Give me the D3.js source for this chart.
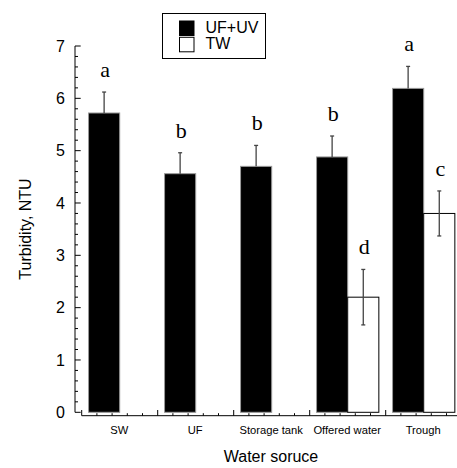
<!DOCTYPE html>
<meta charset="utf-8">
<style>
body { margin: 0; background: #fff; }
text { font-family: "Liberation Sans", Arial, sans-serif; }
.letter { font-family: "Liberation Serif", "Times New Roman", serif; font-size: 22px; }
</style>
<body>
<script src="https://cdn.jsdelivr.net/npm/d3@7"></script>
<script>

// data
var categories = ["SW", "UF", "Storage tank", "Offered water", "Trough"];
var seriesNames = ["UF+UV", "TW"];
var ufuvMean = [5.72, 4.56, 4.70, 4.88, 6.19];
var ufuvErr = [0.40, 0.40, 0.40, 0.40, 0.42];
var ufuvLetters = ["a", "b", "b", "b", "a"];
var twMean = [null, null, null, 2.20, 3.80];
var twErr = [null, null, null, 0.53, 0.43];
var twLetters = [null, null, null, "d", "c"];
var yTicks = [0, 1, 2, 3, 4, 5, 6, 7];

var width = 457, height = 468;

var svg = d3.select("body").append("svg")
    .attr("width", width)
    .attr("height", height);

// scales
var x = d3.scaleBand()
    .domain(categories)
    .range([81.7, 461.7])
    .padding(0);
var xs = d3.scaleBand()
    .domain(seriesNames)
    .range([0, x.bandwidth()])
    .paddingInner(0)
    .paddingOuter(0.22);
var y = d3.scaleLinear()
    .domain([0, 7])
    .range([412.3, 46]);

// build rows
var rows = [];
categories.forEach(function(c, i) {
  rows.push({cat: c, s: "UF+UV", v: ufuvMean[i], e: ufuvErr[i], l: ufuvLetters[i]});
  if (twMean[i] != null) rows.push({cat: c, s: "TW", v: twMean[i], e: twErr[i], l: twLetters[i]});
});

// y axis
var yAxisX = 75;
svg.append("line")
    .attr("x1", yAxisX).attr("x2", yAxisX)
    .attr("y1", y(7)).attr("y2", y(0))
    .attr("stroke", "#000").attr("stroke-width", 1);
d3.range(0, 7.001, 0.2).forEach(function(t) {
  var major = Math.abs(t - Math.round(t)) < 1e-6;
  svg.append("line")
      .attr("x1", yAxisX).attr("x2", yAxisX + (major ? 5.7 : 3))
      .attr("y1", y(t)).attr("y2", y(t))
      .attr("stroke", "#000").attr("stroke-width", 1);
});
svg.selectAll(".ytl")
    .data(yTicks)
  .enter().append("text")
    .attr("class", "ytl")
    .attr("x", 65)
    .attr("y", function(d) { return y(d); })
    .attr("dy", "0.36em")
    .attr("text-anchor", "end")
    .style("font-size", "16px")
    .text(function(d) { return d; });

// x axis (sits a bit below the zero line)
var xAxisY = 415.7;
svg.append("line")
    .attr("x1", x.range()[0]).attr("x2", x.range()[1])
    .attr("y1", xAxisY).attr("y2", xAxisY)
    .attr("stroke", "#000").attr("stroke-width", 1);
categories.forEach(function(c, i) {
  for (var k = 0; k <= 5; k++) {
    if (k == 5 && i < categories.length - 1) continue;
    var tx = x(c) + k * x.bandwidth() / 5;
    svg.append("line")
        .attr("x1", tx).attr("x2", tx)
        .attr("y1", xAxisY).attr("y2", xAxisY - (k == 0 || k == 5 ? 5.7 : 2.5))
        .attr("stroke", "#000").attr("stroke-width", 1);
  }
});
svg.selectAll(".xtl")
    .data(categories)
  .enter().append("text")
    .attr("class", "xtl")
    .attr("x", function(d) { return x(d) + x.bandwidth() / 2 - 0.5; })
    .attr("y", 434)
    .attr("text-anchor", "middle")
    .style("font-size", "11.2px")
    .text(function(d) { return d; });

// bars
svg.selectAll(".bar")
    .data(rows)
  .enter().append("rect")
    .attr("class", "bar")
    .attr("x", function(d) { return x(d.cat) + xs(d.s); })
    .attr("y", function(d) { return y(d.v); })
    .attr("width", xs.bandwidth())
    .attr("height", function(d) { return y(0) - y(d.v); })
    .attr("fill", function(d) { return d.s == "TW" ? "#fff" : "#000"; })
    .attr("stroke", function(d) { return d.s == "TW" ? "#000" : "#999"; })
    .attr("stroke-width", 1);

// error bars (lower half only shows on the open bars)
var err = svg.selectAll(".err")
    .data(rows)
  .enter().append("g")
    .attr("class", "err")
    .attr("transform", function(d) { return "translate(" + (x(d.cat) + xs(d.s) + xs.bandwidth() / 2) + ",0)"; });
err.append("line")
    .attr("y1", function(d) { return y(d.v + d.e); })
    .attr("y2", function(d) { return d.s == "TW" ? y(d.v - d.e) : y(d.v); })
    .attr("stroke", "#444").attr("stroke-width", 1.3);
err.append("line")
    .attr("x1", -2).attr("x2", 2)
    .attr("y1", function(d) { return y(d.v + d.e); })
    .attr("y2", function(d) { return y(d.v + d.e); })
    .attr("stroke", "#444").attr("stroke-width", 1.3);
err.filter(function(d) { return d.s == "TW"; }).append("line")
    .attr("x1", -2).attr("x2", 2)
    .attr("y1", function(d) { return y(d.v - d.e); })
    .attr("y2", function(d) { return y(d.v - d.e); })
    .attr("stroke", "#444").attr("stroke-width", 1.3);

// significance letters
svg.selectAll(".letter")
    .data(rows)
  .enter().append("text")
    .attr("class", "letter")
    .attr("x", function(d) { return x(d.cat) + xs(d.s) + xs.bandwidth() / 2 + 1; })
    .attr("y", function(d) { return y(d.v + d.e) - 15; })
    .attr("text-anchor", "middle")
    .text(function(d) { return d.l; });

// axis titles
svg.append("text")
    .attr("x", 271)
    .attr("y", 461.5)
    .attr("text-anchor", "middle")
    .style("font-size", "16px")
    .text("Water soruce");
svg.append("text")
    .attr("transform", "translate(31,229) rotate(-90)")
    .attr("text-anchor", "middle")
    .style("font-size", "16px")
    .text("Turbidity, NTU");

// legend
var legend = svg.append("g");
legend.append("rect")
    .attr("x", 162.5).attr("y", 13.5)
    .attr("width", 103).attr("height", 45)
    .attr("fill", "#fff").attr("stroke", "#000").attr("stroke-width", 1);
seriesNames.forEach(function(s, i) {
  legend.append("rect")
      .attr("x", 179.5).attr("y", 21 + i * 16.3)
      .attr("width", 14.5).attr("height", 14.5)
      .attr("fill", i == 0 ? "#000" : "#fff")
      .attr("stroke", "#000").attr("stroke-width", 1);
  legend.append("text")
      .attr("x", 205.5).attr("y", 33 + i * 15.7)
      .style("font-size", "16px")
      .text(s);
});

</script>
</body>
